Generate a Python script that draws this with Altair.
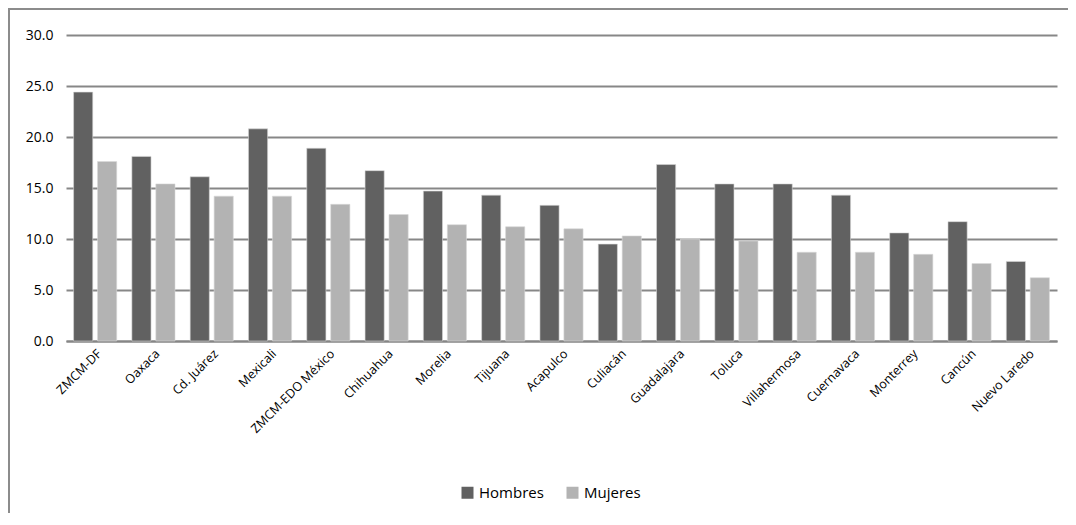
import altair as alt
import pandas as pd

ciudades = ["ZMCM-DF", "Oaxaca", "Cd. Juárez", "Mexicali", "ZMCM-EDO México", "Chihuahua",
            "Morelia", "Tijuana", "Acapulco", "Culiacán", "Guadalajara", "Toluca",
            "Villahermosa", "Cuernavaca", "Monterrey", "Cancún", "Nuevo Laredo"]
hombres = [24.4, 18.1, 16.1, 20.8, 18.9, 16.7, 14.7, 14.3, 13.3, 9.5, 17.3, 15.4,
           15.4, 14.3, 10.6, 11.7, 7.8]
mujeres = [17.6, 15.4, 14.2, 14.2, 13.4, 12.4, 11.4, 11.2, 11.0, 10.3, 10.0, 9.8,
           8.7, 8.7, 8.5, 7.6, 6.2]
series = ["Hombres", "Mujeres"]
colores = ["#616161", "#b3b3b3"]
ticks_y = [0, 5, 10, 15, 20, 25, 30]

rows = []
for c, h, m in zip(ciudades, hombres, mujeres):
    rows.append({"Ciudad": c, "Sexo": "Hombres", "Valor": h})
    rows.append({"Ciudad": c, "Sexo": "Mujeres", "Valor": m})
df = pd.DataFrame(rows)

FONT = "Open Sans"

bars = alt.Chart(df).mark_bar(stroke="#d9d9d9", strokeWidth=0.6).encode(
    x=alt.X("Ciudad:N", sort=ciudades,
            scale=alt.Scale(paddingInner=0.26, paddingOuter=0.13),
            axis=alt.Axis(title=None, labelAngle=-45, labelFontSize=12.5, labelFont=FONT,
                          labelColor="#000000", ticks=False, domain=True,
                          domainColor="#868686", domainWidth=2, labelPadding=6,
                          labelOverlap=False, grid=False)),
    xOffset=alt.XOffset("Sexo:N", sort=series, scale=alt.Scale(paddingInner=0.2)),
    y=alt.Y("Valor:Q", scale=alt.Scale(domain=[0, 30], nice=False),
            axis=alt.Axis(title=None, values=ticks_y, format=".1f", labelFontSize=14,
                          labelFont=FONT, labelColor="#000000", ticks=False, domain=False,
                          grid=True, gridColor="#878787", gridWidth=1.8, labelPadding=13)),
    color=alt.Color("Sexo:N", sort=series,
                    scale=alt.Scale(domain=series, range=colores),
                    legend=alt.Legend(title=None, orient="none", direction="horizontal",
                                      legendX=394, legendY=450, symbolType="square",
                                      symbolSize=144, symbolStrokeWidth=0,
                                      labelFontSize=15, labelFont=FONT,
                                      labelColor="#000000", columnPadding=21,
                                      labelOffset=4, padding=0)),
)

border = alt.Chart(pd.DataFrame({"a": [0]})).mark_rect(
    fill="transparent", stroke="#8c8c8c", strokeWidth=2
).encode(
    x=alt.value(-57), x2=alt.value(1030), y=alt.value(-26), y2=alt.value(520)
)

chart = alt.layer(border, bars).properties(
    width=991, height=306,
    autosize=alt.AutoSizeParams(type="none"),
    padding={"left": 58, "top": 27, "right": 11, "bottom": 172},
).configure_view(stroke=None)

chart.save("out.html", embed_options={"renderer": "svg", "actions": False})
